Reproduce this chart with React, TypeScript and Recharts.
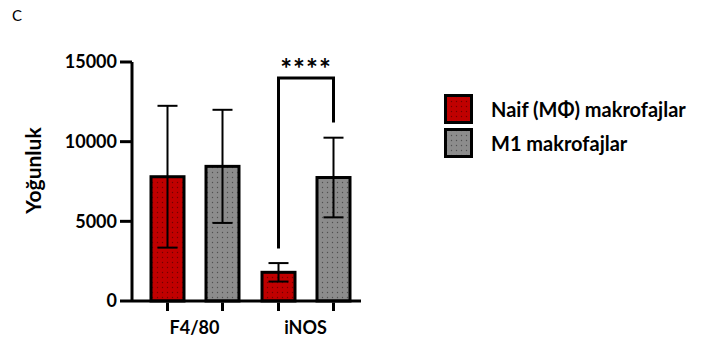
import React from "react"
import { BarChart, Bar, XAxis, YAxis, ErrorBar, Legend } from "recharts"

const categories = ["F4/80", "iNOS"]
const naifMeans = [7800, 1800]
const naifSd = [4450, 580]
const m1Means = [8450, 7750]
const m1Sd = [3550, 2500]
const yTicks = [0, 5000, 10000, 15000]
const seriesNames = ["Naif (MΦ) makrofajlar", "M1 makrofajlar"]

// significance bracket over the iNOS pair
const sigCategory = "iNOS"
const sigTop = 14000
const sigLeftEnd = 3300
const sigRightEnd = 11200
const sigLabel = "****"

const RED = "#c00000"
const GRAY = "#8c8c8c"
const BAR_SIZE = 33
const BAR_GAP = 22
const FONT = "Lato, 'Open Sans', sans-serif"

const data = categories.map((name, i) => ({
    name,
    naif: naifMeans[i],
    naifErr: naifSd[i],
    m1: m1Means[i],
    m1Err: m1Sd[i],
}))

const PatternDefs = ({ prefix }: { prefix: string }) => (
    <defs>
        <pattern id={`${prefix}-red`} width={5} height={5} patternUnits="userSpaceOnUse">
            <rect width={5} height={5} fill={RED} />
            <circle cx={2.5} cy={2.5} r={0.7} fill="#700000" />
        </pattern>
        <pattern id={`${prefix}-gray`} width={5} height={5} patternUnits="userSpaceOnUse">
            <rect width={5} height={5} fill={GRAY} />
            <circle cx={2.5} cy={2.5} r={0.7} fill="#505050" />
        </pattern>
    </defs>
)

function makeBarShape(patternId: string, key: "naif" | "m1", withBracket: boolean) {
    return (props: any) => {
        const { x, y, width, height, payload } = props
        const bottom = y + height
        const cx = x + width / 2
        let bracket = null
        if (withBracket && payload.name === sigCategory) {
            const pxPer = height / payload[key]
            const yOf = (v: number) => bottom - v * pxPer
            const leftX = cx - (width + BAR_GAP)
            bracket = (
                <g>
                    <path
                        d={`M${leftX},${yOf(sigLeftEnd)} V${yOf(sigTop)} H${cx} V${yOf(sigRightEnd)}`}
                        fill="none"
                        stroke="#000"
                        strokeWidth={3}
                    />
                    <text
                        x={(leftX + cx) / 2}
                        y={yOf(sigTop) + 1}
                        textAnchor="middle"
                        fontFamily={FONT}
                        fontWeight="bold"
                        fontSize={28}
                        letterSpacing={1}
                    >
                        {sigLabel}
                    </text>
                </g>
            )
        }
        return (
            <g>
                <rect
                    x={x}
                    y={y}
                    width={width}
                    height={height}
                    fill={`url(#${patternId})`}
                    stroke="#000"
                    strokeWidth={3}
                />
                <line x1={cx} x2={cx} y1={bottom + 1.5} y2={bottom + 10} stroke="#000" strokeWidth={3} />
                {bracket}
            </g>
        )
    }
}

const renderLegend = () => (
    <div style={{ fontFamily: FONT }}>
        {seriesNames.map((name, i) => (
            <div key={name} style={{ display: "flex", alignItems: "center", height: 34 }}>
                <svg width={30} height={31} style={{ display: "block" }}>
                    <PatternDefs prefix={`lg${i}`} />
                    <rect
                        x={1.5}
                        y={1.5}
                        width={26}
                        height={27}
                        fill={`url(#lg${i}-${i === 0 ? "red" : "gray"})`}
                        stroke="#000"
                        strokeWidth={3}
                    />
                </svg>
                <span style={{ marginLeft: 17, fontSize: 20, fontWeight: "bold", color: "#000" }}>{name}</span>
            </div>
        ))}
    </div>
)

const renderYLabel = (props: any) => {
    const vb = props.viewBox || {}
    const x = (vb.x || 0) + 32
    const y = (vb.y || 0) + (vb.height || 0) / 2 - 11
    return (
        <text
            x={x}
            y={y}
            transform={`rotate(-90, ${x}, ${y})`}
            textAnchor="middle"
            dominantBaseline="central"
            fontFamily={FONT}
            fontWeight="bold"
            fontSize={21}
            fill="#000"
        >
            Yoğunluk
        </text>
    )
}

export default function App() {
    return (
        <div style={{ position: "absolute", left: 0, top: 0, width: 717, height: 343, background: "#fff" }}>
            <div style={{ position: "absolute", left: 12, top: 6, fontFamily: FONT, fontSize: 15 }}>C</div>
            <BarChart
                width={717}
                height={343}
                data={data}
                margin={{ top: 62, right: 356, bottom: 12, left: 0 }}
                barSize={BAR_SIZE}
                barGap={BAR_GAP}
            >
                <PatternDefs prefix="ch" />
                <XAxis
                    dataKey="name"
                    height={30}
                    padding={{ left: 7, right: 0 }}
                    axisLine={{ stroke: "#000", strokeWidth: 3 }}
                    tickLine={false}
                    tickSize={8}
                    tickMargin={12}
                    tick={{ fill: "#000", fontSize: 18, fontWeight: "bold", fontFamily: FONT }}
                />
                <YAxis
                    width={132}
                    domain={[0, 15000]}
                    ticks={yTicks}
                    interval={0}
                    axisLine={{ stroke: "#000", strokeWidth: 3 }}
                    tickLine={{ stroke: "#000", strokeWidth: 3 }}
                    tickSize={12}
                    tickMargin={3}
                    tick={{ fill: "#000", fontSize: 18, fontWeight: "bold", fontFamily: FONT }}
                    label={renderYLabel}
                />
                <Legend
                    layout="vertical"
                    align="center"
                    verticalAlign="middle"
                    content={renderLegend}
                    wrapperStyle={{ left: 444, top: 92, width: 270 }}
                />
                <Bar
                    dataKey="naif"
                    name={seriesNames[0]}
                    fill={RED}
                    isAnimationActive={false}
                    shape={makeBarShape("ch-red", "naif", false)}
                >
                    <ErrorBar dataKey="naifErr" width={10} strokeWidth={2} stroke="#000" direction="y" />
                </Bar>
                <Bar
                    dataKey="m1"
                    name={seriesNames[1]}
                    fill={GRAY}
                    isAnimationActive={false}
                    shape={makeBarShape("ch-gray", "m1", true)}
                >
                    <ErrorBar dataKey="m1Err" width={10} strokeWidth={2} stroke="#000" direction="y" />
                </Bar>
            </BarChart>
        </div>
    )
}
